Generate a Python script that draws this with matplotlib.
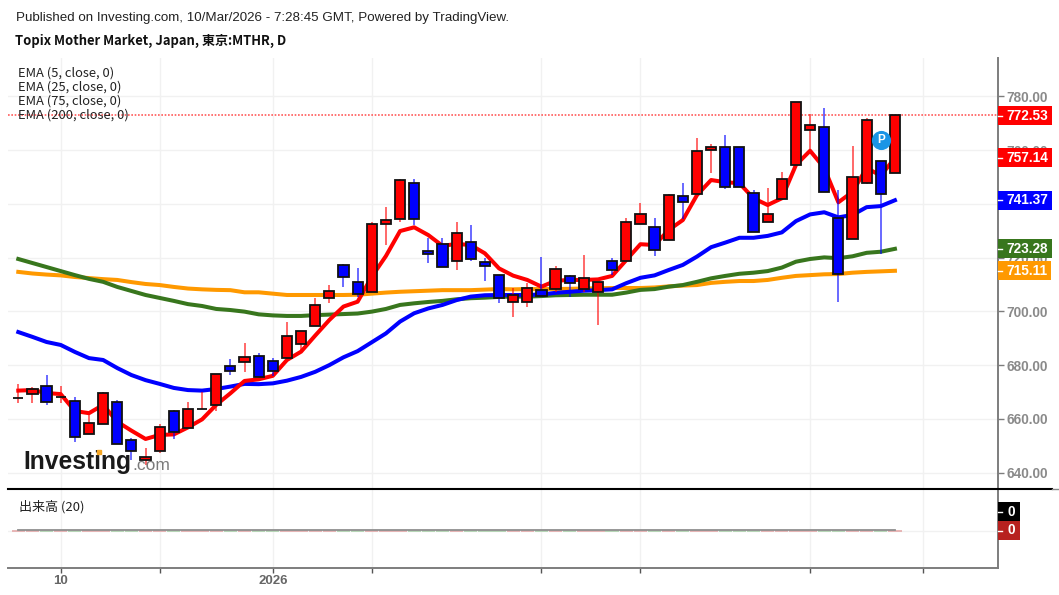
import matplotlib
matplotlib.use("Agg")
import matplotlib.pyplot as plt
from matplotlib.lines import Line2D
from matplotlib.patches import Rectangle
from matplotlib.transforms import offset_copy
import numpy as np

W, H = 1059, 595
CJK = ["Noto Sans CJK JP", "DejaVu Sans"]
SANS = "Liberation Sans"

opens = [667.8, 669.2, 672.2, 668.0, 666.7, 654.2, 657.9, 666.4, 652.1, 644.7, 648.1, 662.8, 656.6, 663.6, 665.0, 679.8,
         681.1, 683.4, 681.5, 682.6, 687.9, 694.6, 704.9, 717.3, 711.0, 707.1, 732.5, 734.3, 747.7, 722.6, 725.0, 718.6,
         725.8, 718.3, 713.6, 703.5, 703.5, 707.8, 708.4, 713.3, 708.4, 707.1, 718.6, 718.6, 732.5, 731.5, 726.7, 742.8,
         743.6, 760.1, 761.1, 761.1, 744.1, 733.4, 741.8, 754.5, 767.4, 768.6, 734.9, 727.1, 747.7, 756.1, 751.4]
closes = [667.8, 671.2, 666.4, 668.0, 653.3, 658.3, 669.5, 650.7, 648.1, 645.8, 657.0, 655.2, 663.6, 663.6, 676.7, 677.9,
          682.9, 675.7, 677.9, 690.9, 692.8, 702.5, 707.5, 712.8, 706.5, 732.5, 734.1, 749.0, 734.3, 721.3, 716.4, 729.3,
          719.5, 716.8, 704.9, 706.1, 708.8, 705.7, 715.9, 710.6, 712.3, 711.0, 715.5, 733.4, 736.1, 722.7, 743.2, 740.6,
          759.7, 761.1, 746.3, 746.3, 729.4, 736.1, 749.4, 778.1, 769.3, 744.6, 713.8, 749.9, 771.4, 743.7, 773.1]
highs = [672.9, 672.0, 676.4, 672.3, 668.0, 661.4, 670.1, 667.0, 652.9, 649.1, 658.1, 663.3, 666.2, 670.1, 676.7, 682.2,
         688.1, 684.4, 682.6, 695.9, 692.8, 705.0, 709.8, 717.5, 716.0, 733.2, 739.0, 749.3, 749.3, 727.2, 727.2, 733.2,
         732.2, 719.9, 713.6, 708.6, 710.6, 720.2, 717.0, 713.6, 721.0, 711.0, 719.8, 734.9, 740.2, 734.9, 743.7, 747.9,
         764.4, 762.2, 765.8, 761.1, 745.2, 745.8, 752.0, 778.1, 773.4, 775.6, 745.2, 761.7, 771.9, 756.1, 773.1]
lows = [665.9, 666.0, 665.3, 665.8, 651.5, 654.2, 657.9, 650.7, 644.7, 642.8, 647.4, 652.5, 656.6, 663.6, 663.0, 676.4,
        677.3, 675.7, 675.9, 682.6, 685.6, 694.6, 703.2, 709.1, 705.5, 707.1, 724.7, 733.3, 732.2, 717.9, 716.4, 715.4,
        718.9, 711.3, 703.0, 698.0, 701.5, 705.7, 707.3, 705.5, 707.3, 694.9, 713.6, 718.6, 732.5, 720.6, 726.7, 734.3,
        743.6, 751.4, 745.7, 746.3, 729.4, 733.4, 741.8, 754.5, 759.4, 744.6, 703.6, 727.1, 747.3, 721.2, 751.4]

ema5 = [670.5, 670.7, 669.6, 669.2, 662.9, 662.1, 665.2, 658.9, 655.6, 652.5, 654.0, 654.2, 656.8, 659.8, 665.2, 669.5,
        674.1, 674.7, 676.0, 681.9, 685.0, 691.0, 696.8, 701.8, 703.6, 712.9, 720.6, 729.9, 731.3, 728.4, 724.4, 725.1,
        724.7, 721.6, 716.0, 713.3, 711.7, 709.2, 711.4, 711.7, 711.7, 711.9, 713.2, 719.1, 725.0, 724.7, 730.3, 734.0,
        743.3, 748.9, 748.1, 747.7, 742.1, 739.6, 742.1, 754.5, 759.8, 753.4, 740.6, 744.5, 753.4, 750.5, 757.14]
ema25 = [692.3, 690.5, 688.6, 687.5, 684.9, 682.6, 681.9, 678.9, 676.3, 674.4, 673.0, 671.5, 670.7, 670.5, 671.1, 672.0,
         673.0, 672.9, 673.2, 674.2, 675.6, 677.5, 680.0, 682.9, 685.2, 688.5, 691.8, 696.2, 699.3, 701.1, 702.4, 704.2,
         705.5, 706.0, 706.1, 706.1, 706.1, 706.3, 706.9, 707.3, 707.7, 707.9, 708.2, 710.5, 712.5, 713.4, 715.4, 717.3,
         720.4, 723.9, 725.6, 727.4, 727.4, 728.1, 729.4, 733.6, 736.1, 736.9, 735.0, 735.9, 738.8, 739.2, 741.37]
ema75 = [719.5, 718.0, 716.5, 715.0, 713.5, 712.1, 711.0, 709.1, 707.6, 706.1, 705.0, 703.9, 702.7, 702.0, 700.9, 700.5,
         699.9, 698.9, 698.5, 698.3, 698.3, 698.6, 698.8, 699.0, 699.2, 699.9, 700.9, 702.4, 703.0, 703.5, 703.9, 704.5,
         704.9, 705.1, 705.4, 705.5, 705.5, 705.7, 706.0, 706.1, 706.2, 706.2, 706.2, 707.0, 708.0, 708.3, 709.2, 709.8,
         711.0, 712.3, 713.2, 714.0, 714.4, 715.0, 716.3, 718.5, 719.5, 720.1, 719.8, 720.5, 721.8, 722.2, 723.28]
ema200 = [714.7, 714.1, 713.7, 713.4, 712.8, 712.4, 712.0, 711.7, 710.9, 710.2, 709.8, 709.1, 708.5, 708.2, 708.0, 707.9,
          707.1, 707.1, 706.6, 706.1, 706.1, 706.1, 706.1, 706.1, 706.2, 706.6, 707.0, 707.3, 707.5, 707.7, 707.9, 707.9,
          707.9, 708.1, 708.3, 708.2, 708.3, 708.3, 708.3, 708.4, 708.5, 708.6, 708.7, 708.7, 708.7, 708.9, 709.3, 709.6,
          709.8, 710.6, 711.0, 711.3, 711.3, 711.7, 712.5, 713.2, 713.5, 713.8, 713.9, 714.4, 714.7, 714.9, 715.11]

volume = [0] * 63
volume_ma = [0] * 63

y_ticks = [640, 660, 680, 700, 720, 740, 760, 780]
x_ticks = [3, 10, 18, 25, 37, 44, 56, 64]
x_labels = ["10", "", "2026", "", "", "", "", ""]
ema_names = ["EMA (5, close, 0)", "EMA (25, close, 0)", "EMA (75, close, 0)", "EMA (200, close, 0)"]

RED, BLUE, GREEN, ORANGE = "#ff0000", "#0000ff", "#38761d", "#ff9900"
GRID = "#f1f1f1"
AXIS = "#7d7d7d"


def axes_rect(left, top, right, bottom):
    return [left / W, 1 - bottom / H, (right - left) / W, (bottom - top) / H]


def fig_text(x, y, s, **kw):
    kw.setdefault("va", "center")
    return fig.text(x / W, 1 - y / H, s, **kw)


def value_box(ax, y, h, color, text, width=54):
    # coloured tag right of the axis, height h is in data units
    tr = ax.get_yaxis_transform()
    ax.add_patch(Rectangle((1, y - h / 2), width / 990, h, transform=tr, color=color,
                           clip_on=False, zorder=10, lw=0))
    ax.plot([1, 1 + 4 / 990], [y, y], transform=tr, color="white", lw=1, clip_on=False, zorder=11)
    ax.text(1 + (width / 2 + 2) / 990, y, text, transform=tr, color="white", ha="center", va="center",
            family=SANS, fontsize=9.8, fontweight="bold", zorder=12)


fig = plt.figure(figsize=(W / 100, H / 100), dpi=100, facecolor="white")
ax1 = fig.add_axes(axes_rect(8, 58, 998, 489))
ax2 = fig.add_axes(axes_rect(8, 490, 998, 568))

x = np.arange(len(closes))
xlim = (-0.728, 69.29)

for ax in (ax1, ax2):
    ax.set_xlim(xlim)
    ax.set_xticks(x_ticks)
    ax.set_axisbelow(True)
    ax.grid(axis="x", color=GRID, lw=1)
    for side in ("left", "top"):
        ax.spines[side].set_visible(False)
    ax.spines["right"].set_color(AXIS)
    ax.spines["right"].set_linewidth(1.4)

# price pane
ax1.set_ylim(633.87, 794.33)
ax1.set_yticks(y_ticks)
ax1.set_yticklabels([f"{v:.2f}" for v in y_ticks], family=SANS, fontsize=9.8,
                    fontweight="bold", color="#8a8a8a")
ax1.yaxis.tick_right()
ax1.tick_params(axis="y", length=4, width=1, color=AXIS, pad=2)
ax1.tick_params(axis="x", length=0, labelbottom=False)
ax1.grid(axis="y", color=GRID, lw=1)
ax1.spines["bottom"].set_visible(False)

ax1.axhline(closes[-1], color="#ff5a5a", lw=1.2, ls=(0, (1, 1)), zorder=1)
ax1.plot(x, ema200, color=ORANGE, lw=2.9, zorder=2)
ax1.plot(x, ema75, color=GREEN, lw=2.9, zorder=2.1)
ax1.plot(x, ema25, color=BLUE, lw=2.9, zorder=2.2)
ax1.plot(x, ema5, color=RED, lw=2.9, zorder=2.3)

up = np.array(closes) >= np.array(opens)
colors = [RED if u else BLUE for u in up]
ax1.vlines(x, lows, highs, colors=colors, lw=1.1, alpha=0.75, zorder=3)
ax1.bar(x, np.abs(np.array(closes) - np.array(opens)), bottom=np.minimum(opens, closes), width=0.72,
        color=colors, edgecolor="#111111", lw=1.3, zorder=4)

ax1.scatter([61], [763.8], s=190, color="#1b95e6", lw=0, zorder=5)
ax1.text(61, 763.8, "P", color="white", ha="center", va="center", family=SANS,
         fontsize=8.5, fontweight="bold", zorder=6)

box_h = 19 / 2.686
value_box(ax1, closes[-1] - 0.2, box_h, RED, "772.53")
value_box(ax1, ema5[-1], box_h, RED, "757.14")
value_box(ax1, ema25[-1], box_h, BLUE, "741.37")
value_box(ax1, ema75[-1], box_h, GREEN, "723.28")
value_box(ax1, ema200[-1], box_h, ORANGE, "715.11", width=53)

# volume pane, y units are pixels around the zero line
ax2.set_ylim(-37, 41)
ax2.set_yticks([])
ax2.axhline(0, color=GRID, lw=1, zorder=1)
vol_colors = ["#e3a3a3" if u else "#a6cfa6" for u in up]
ax2.hlines(volume, x - 0.47, x + 0.47, colors=vol_colors, lw=1.1, zorder=2)
up_one = offset_copy(ax2.transData, fig=fig, y=1.2, units="dots")
ax2.plot(x, volume_ma, color="#8f8f8f", lw=1.3, transform=up_one, zorder=3)
ax2.set_xticklabels(x_labels)
for lab in ax2.get_xticklabels():
    lab.set(family=SANS, fontsize=9.5, color="#666666", fontweight="bold")
ax2.tick_params(axis="x", length=3.5, width=1, color="#555555", pad=1.5)
ax2.spines["bottom"].set_color(AXIS)
ax2.spines["bottom"].set_linewidth(1.4)
value_box(ax2, 19.5, 19, "#000000", "0", width=22)
value_box(ax2, 0.5, 19, "#b7211f", "0", width=22)

# pane separator
fig.add_artist(Line2D([8 / W, 1052 / W], [1 - 489 / H] * 2, color="black", lw=1.5))
fig.add_artist(Line2D([1052 / W, 1], [1 - 489 / H] * 2, color="#888888", lw=1))

# header and legends
fig_text(16, 18, "Published on Investing.com, 10/Mar/2026 - 7:28:45 GMT, Powered by TradingView.",
         family=SANS, fontsize=9.6, color="#222222")
fig_text(15, 41, "Topix Mother Market, Japan, 東京:MTHR, D", family=CJK, fontsize=9.37,
         fontweight="bold", color="#111111")
for name, yp in zip(ema_names, [73.5, 87, 101, 115]):
    fig_text(18, yp, name, family=CJK, fontsize=9.34, color="#222222", zorder=20)
fig_text(19, 506.5, "出来高 (20)", family=CJK, fontsize=9.4, color="#222222")

# watermark
fig_text(23, 461.5, "Investing", family=SANS, fontsize=17.7, fontweight="bold", color="#1a1a1a", zorder=20)
fig_text(132, 465, ".com", family=SANS, fontsize=12.5, color="#7a7a7a", zorder=20)
fig.add_artist(Rectangle((96.5 / W, 1 - 453.5 / H), 4 / W, 4 / H, transform=fig.transFigure,
                         color="#f5a623", zorder=21))

plt.savefig("out.png", dpi=100, facecolor="white")
plt.close()
